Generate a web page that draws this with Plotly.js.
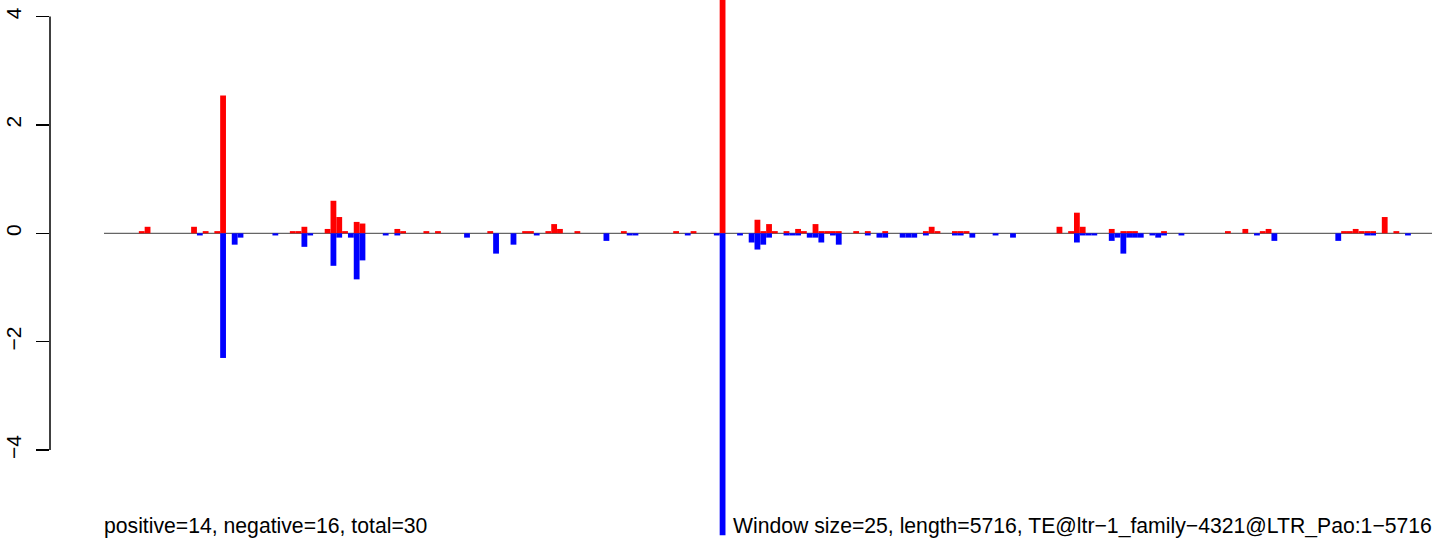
<!DOCTYPE html>
<html>
<head>
<meta charset="utf-8">
<script src="https://cdn.plot.ly/plotly-3.0.1.min.js"></script>
<style>html,body{margin:0;padding:0;background:#fff;}#chart{width:1444px;height:541px;}</style>
</head>
<body>
<div id="chart"></div>
<script>
// Window size 25 bp, sequence length 5716 -> windows indexed from 0
const windowSize = 25;
const seqLength = 5716;

// Positive (red) bars: window index and value
const redIdx = [6,7,15,17,19,20,32,33,34,38,39,40,41,43,44,
  50,51,55,57,66,72,73,76,77,78,81,89,
  98,101,106,112,113,114,115,117,119,120,122,123,124,125,126,129,131,134,
  141,142,143,146,147,148,164,166,167,168,173,175,176,177,182,
  193,196,199,200,213,214,215,216,217,218,220,222];
const redVal = [0.04,0.12,0.12,0.04,0.04,2.54,0.04,0.04,0.12,0.08,0.60,0.30,0.04,0.21,0.18,
  0.08,0.04,0.04,0.04,0.04,0.04,0.04,0.04,0.17,0.08,0.04,0.04,
  0.04,0.04,5.57,0.25,0.04,0.17,0.04,0.04,0.08,0.04,0.17,0.04,0.04,0.04,0.04,0.04,0.04,0.04,
  0.04,0.12,0.04,0.04,0.04,0.04,0.12,0.04,0.38,0.12,0.08,0.04,0.04,0.04,0.04,
  0.04,0.08,0.04,0.08,0.04,0.04,0.08,0.04,0.04,0.04,0.30,0.04];

// Negative (blue) bars: window index and value
const blueIdx = [16,20,22,23,29,34,35,39,40,42,43,44,
  48,50,62,67,70,74,86,90,91,
  100,105,106,109,111,112,113,114,117,118,119,121,122,123,125,126,131,133,134,137,138,139,
  141,146,147,149,153,156,167,168,169,170,173,174,175,176,177,178,180,181,182,185,
  198,201,212,217,218,224];
const blueVal = [-0.04,-2.30,-0.21,-0.08,-0.04,-0.25,-0.04,-0.60,-0.08,-0.08,-0.85,-0.50,
  -0.04,-0.04,-0.08,-0.375,-0.21,-0.04,-0.14,-0.04,-0.04,
  -0.04,-0.04,-5.57,-0.04,-0.17,-0.30,-0.21,-0.08,-0.04,-0.04,-0.04,-0.08,-0.08,-0.17,-0.04,-0.21,-0.04,-0.08,-0.08,-0.08,-0.08,-0.08,
  -0.04,-0.04,-0.04,-0.08,-0.04,-0.08,-0.17,-0.04,-0.04,-0.04,-0.14,-0.08,-0.375,-0.08,-0.08,-0.08,-0.04,-0.08,-0.04,-0.04,
  -0.04,-0.14,-0.14,-0.04,-0.04,-0.04];

const yTickVals = [-4,-2,0,2,4];
const yTickText = ['\u22124','\u22122','0','2','4'];

const leftLabel = 'positive=14, negative=16, total=30';
const rightLabel = 'Window size=25, length=5716, TE@ltr\u22121_family\u22124321@LTR_Pao:1\u22125716';

const nWin = seqLength / windowSize;
const centers = arr => arr.map(k => k + 0.5);

const FONT = 'Liberation Sans, Arial, Helvetica, sans-serif';

const traces = [
  {type:'bar', x: centers(redIdx), y: redVal, width: 1,
   marker:{color:'#FF0000', line:{width:0}}, hoverinfo:'skip', showlegend:false},
  {type:'bar', x: centers(blueIdx), y: blueVal, width: 1,
   marker:{color:'#0000FF', line:{width:0}}, hoverinfo:'skip', showlegend:false}
];

// pixel mapping: window 0 at px 104, window nWin at px 1432, plot area starts at px 50
const pxPerWin = (1432 - 104) / nWin;
const xMin = -(104 - 50) / pxPerWin;
const xMax = xMin + (1444 - 50) / pxPerWin;

const layout = {
  width:1444, height:541,
  margin:{l:50, r:0, t:0, b:0, pad:0},
  paper_bgcolor:'#fff', plot_bgcolor:'#fff',
  barmode:'relative',
  showlegend:false,
  font:{family:FONT, size:21.2, color:'#000'},
  xaxis:{range:[xMin, xMax], visible:false, fixedrange:true},
  yaxis:{range:[-5.677, 4.304], showgrid:false, zeroline:false, showline:false,
    tickvals:yTickVals, ticktext:yTickText, ticks:'outside', ticklen:13, tickwidth:1.5,
    tickcolor:'#000', tickangle:-90, ticklabelstandoff:7,
    tickfont:{family:FONT, size:21, color:'#000'}, fixedrange:true},
  shapes:[
    {type:'line', xref:'x', yref:'y', x0:0, x1:nWin, y0:0, y1:0,
     line:{color:'#666666', width:1.3}, layer:'below'},
    {type:'line', xref:'paper', yref:'y', x0:0, x1:0, y0:-4, y1:4,
     line:{color:'#000', width:1.5}}
  ],
  annotations:[
    {text:leftLabel, xref:'x', yref:'paper', x:0, y:1-526/541, xanchor:'left', yanchor:'middle',
     xshift:-2, showarrow:false, font:{family:FONT, size:21.2, color:'#000'}},
    {text:rightLabel, xref:'x', yref:'paper', x:nWin, y:1-526/541, xanchor:'right', yanchor:'middle',
     xshift:2, showarrow:false, font:{family:FONT, size:21.2, color:'#000'}}
  ]
};

Plotly.newPlot('chart', traces, layout, {displayModeBar:false, staticPlot:true});
</script>
</body>
</html>
